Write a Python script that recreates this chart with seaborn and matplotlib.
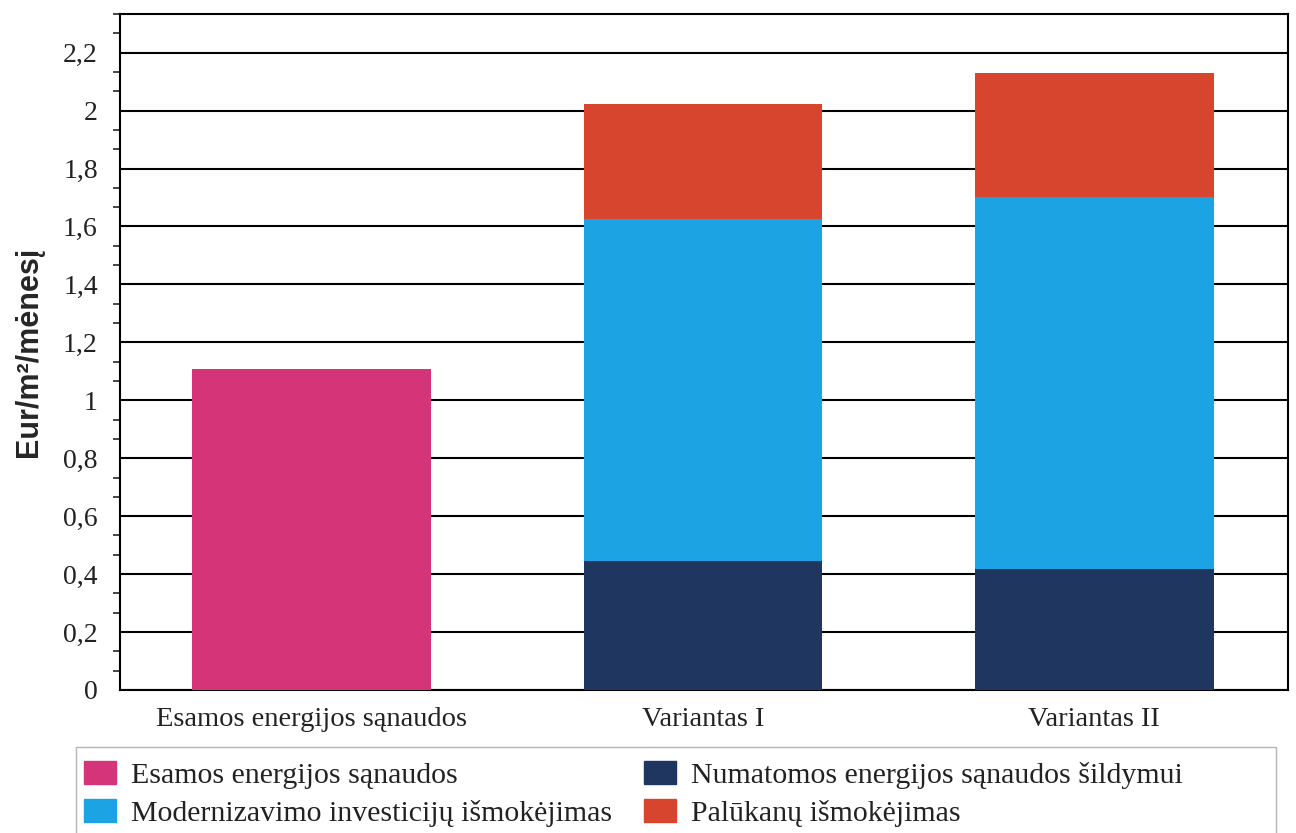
import numpy as np
import pandas as pd
import matplotlib
matplotlib.use("Agg")
import matplotlib.pyplot as plt
import seaborn as sns
from matplotlib.ticker import MultipleLocator, FuncFormatter

# ---------------- DATA ----------------
categories = ["Esamos energijos sąnaudos", "Variantas I", "Variantas II"]
esamos = [1.107, 0.0, 0.0]
sildymui = [0.0, 0.445, 0.417]
investicijos = [0.0, 1.179, 1.283]
palukanos = [0.0, 0.400, 0.431]

series_names = ["Esamos energijos sąnaudos",
                "Modernizavimo investicijų išmokėjimas",
                "Numatomos energijos sąnaudos šildymui",
                "Palūkanų išmokėjimas"]
colors = {"Esamos energijos sąnaudos": "#d63479",
          "Modernizavimo investicijų išmokėjimas": "#1ca3e3",
          "Numatomos energijos sąnaudos šildymui": "#1e3660",
          "Palūkanų išmokėjimas": "#d8452f"}

df = pd.DataFrame({"cat": categories,
                   "Esamos energijos sąnaudos": esamos,
                   "Numatomos energijos sąnaudos šildymui": sildymui,
                   "Modernizavimo investicijų išmokėjimas": investicijos,
                   "Palūkanų išmokėjimas": palukanos})

# ---------------- PLOT ----------------
sns.set_style("white")
plt.rcParams["font.family"] = ["Liberation Serif", "DejaVu Serif"]

fig = plt.figure(figsize=(12.96, 8.33), dpi=100)
ax = fig.add_axes([0.0926, 0.1717, 0.9012, 0.8115])

# stacking order from bottom to top
stack = ["Esamos energijos sąnaudos",
         "Numatomos energijos sąnaudos šildymui",
         "Modernizavimo investicijų išmokėjimas",
         "Palūkanų išmokėjimas"]
bottom = np.zeros(len(categories))
for name in stack:
    sns.barplot(data=df, x="cat", y=name, order=categories, bottom=bottom,
                color=colors[name], width=0.61, saturation=1, ax=ax,
                linewidth=0, zorder=3)
    bottom = bottom + df[name].values

ax.set_ylim(0, 2.2 + 0.4 / 3)
ax.set_xlim(-0.49, 2.495)
ax.yaxis.set_major_locator(MultipleLocator(0.2))
ax.yaxis.set_minor_locator(MultipleLocator(0.2 / 3))
ax.yaxis.set_major_formatter(FuncFormatter(
    lambda v, p: ("%g" % round(v, 2)).replace(".", ",")))
ax.grid(axis="y", which="major", color="black", linewidth=1.5, zorder=0)
ax.set_axisbelow(True)

for s in ax.spines.values():
    s.set_visible(True)
    s.set_color("black")
    s.set_linewidth(1.5)

ax.tick_params(axis="y", which="major", length=10, width=1.3, direction="out",
               labelsize=20, colors="#222222", pad=6)
ax.tick_params(axis="y", which="minor", length=5, width=1.2, direction="out",
               left=True)
ax.tick_params(axis="x", length=0, labelsize=20.5, pad=12, colors="#222222")

ax.set_xlabel("")
ax.set_ylabel("Eur/m²/mėnesį", fontsize=22, fontweight="bold",
              family=["Liberation Sans", "DejaVu Sans"], labelpad=14)

# legend box
fig.add_artist(plt.Rectangle((0.0586, -0.05), 0.926, 0.1532,
                             transform=fig.transFigure, fill=False,
                             edgecolor="#b5b5b5", linewidth=1.0))

handles = [plt.Rectangle((0, 0), 1, 1, color=colors[n]) for n in series_names]
leg = fig.legend(handles, series_names, ncol=2, loc="upper left",
                 bbox_to_anchor=(0.065, 0.087),
                 fontsize=21.5, frameon=False, handlelength=1.05,
                 handleheight=0.82, handletextpad=0.5, columnspacing=1.1,
                 labelspacing=0.35, borderpad=0, borderaxespad=0)
for t in leg.get_texts():
    t.set_color("#222222")

fig.savefig("out.png", dpi=100)
